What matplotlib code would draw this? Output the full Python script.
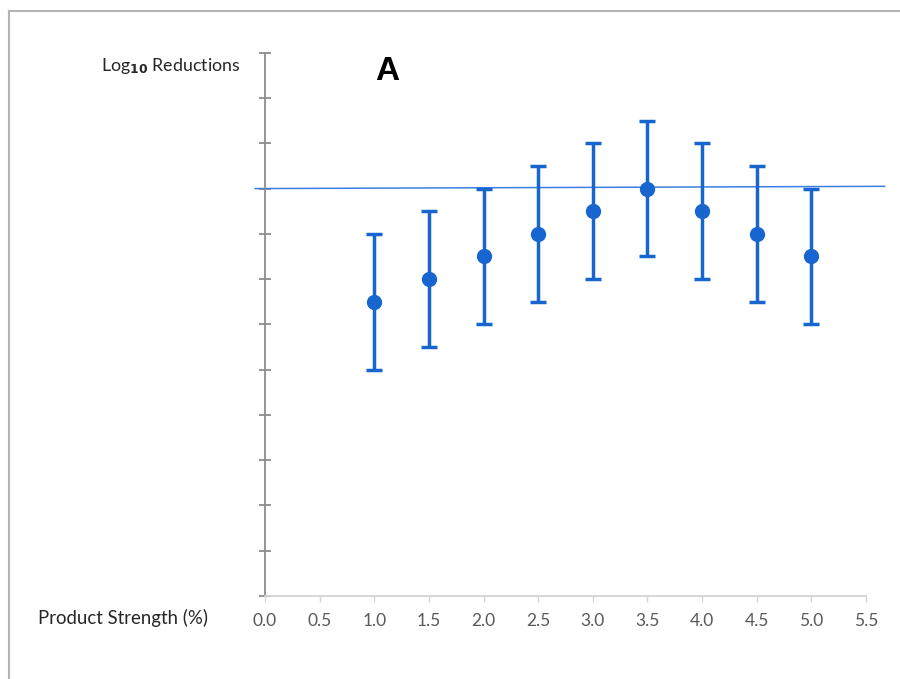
import matplotlib
matplotlib.use("Agg")
import matplotlib.pyplot as plt
from matplotlib.lines import Line2D

plt.rcParams['font.family'] = ['Lato', 'DejaVu Sans']
plt.rcParams['mathtext.default'] = 'regular'

# data
strength = [1.0, 1.5, 2.0, 2.5, 3.0, 3.5, 4.0, 4.5, 5.0]
log_reduction = [6.5, 7.0, 7.5, 8.0, 8.5, 9.0, 8.5, 8.0, 7.5]
error = [1.5, 1.5, 1.5, 1.5, 1.5, 1.5, 1.5, 1.5, 1.5]
x_ticks = [0.0, 0.5, 1.0, 1.5, 2.0, 2.5, 3.0, 3.5, 4.0, 4.5, 5.0, 5.5]
y_ticks = list(range(0, 13))
ref_line_x = [-0.09, 5.67]
ref_line_y = [9.0, 9.05]

blue = '#1766d0'

fig = plt.figure(figsize=(9, 6.79), dpi=100)
ax = fig.add_axes([0.2944, 0.1222, 0.6678, 0.8001])

ax.errorbar(strength, log_reduction, yerr=error, fmt='o', color=blue,
            markersize=10, elinewidth=2.5, capsize=6, capthick=2.5, zorder=3)
ax.plot(ref_line_x, ref_line_y, color='#3d7fe0', linewidth=1.1, clip_on=False, zorder=2)

ax.set_xlim(0, 5.5)
ax.set_ylim(0, 12)
ax.set_xticks(x_ticks)
ax.set_xticklabels([f"{v:.1f}" for v in x_ticks], fontsize=12.5, color='#595959')
ax.set_yticks(y_ticks)
ax.set_yticklabels([])

for s in ['top', 'right']:
    ax.spines[s].set_visible(False)
ax.spines['left'].set_color('#8c8c8c')
ax.spines['left'].set_linewidth(1.3)
ax.spines['bottom'].set_color('#d4d4d4')
ax.spines['bottom'].set_linewidth(1.3)
ax.tick_params(axis='y', direction='inout', length=9, width=1.3, color='#8c8c8c')
ax.tick_params(axis='x', direction='out', length=4, width=1.0, color='#d4d4d4', pad=8)

fig.text(240/900, 1-66/679, r"Log$_{\mathbf{10}}$ Reductions", ha='right', va='center',
         fontsize=12.8, color='#262626')
fig.text(38/900, 1-618/679, "Product Strength (%)", ha='left', va='center',
         fontsize=13.4, color='#262626')
fig.text(387/900, 1-72/679, "A", ha='center', va='center', fontsize=24,
         fontweight='bold', family=['Liberation Sans', 'DejaVu Sans'], color='black')

# border on top and left
fig.add_artist(Line2D([9/900, 1], [1-11/679, 1-11/679], transform=fig.transFigure,
                      color='#b4b4b4', linewidth=1.5))
fig.add_artist(Line2D([9/900, 9/900], [0, 1-11/679], transform=fig.transFigure,
                      color='#b4b4b4', linewidth=1.5))

fig.savefig("out.png", dpi=100)
